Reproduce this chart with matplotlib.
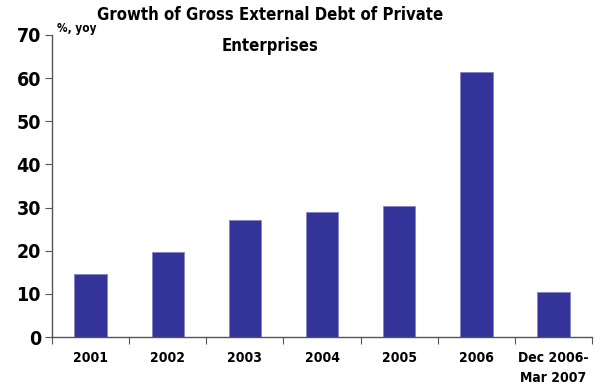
import numpy as np
import matplotlib.pyplot as plt
from matplotlib import font_manager

categories = ["2001", "2002", "2003", "2004", "2005", "2006", "Dec 2006-\nMar 2007"]
growth = [14.6, 19.7, 27.1, 29.0, 30.4, 61.5, 10.5]
y_ticks = [0, 10, 20, 30, 40, 50, 60, 70]


def pick_bold_narrow():
    # prefer a bold narrow/condensed face if one is installed
    files = [f.fname for f in font_manager.fontManager.ttflist]
    files += font_manager.findSystemFonts()
    for key in ["LiberationSansNarrow-Bold.", "DejaVuSansCondensed-Bold.", "Condensed-Bold", "Narrow-Bold"]:
        for fn in files:
            if key in fn.split("/")[-1]:
                return fn
    return None


narrow = pick_bold_narrow()


def fp(size):
    if narrow:
        return font_manager.FontProperties(fname=narrow, size=size)
    return font_manager.FontProperties(family='DejaVu Sans', weight='bold', size=size)


fig = plt.figure(figsize=(6, 3.92), dpi=100)
ax = fig.add_axes([0.0867, 0.140, 0.900, 0.771])

x = np.arange(len(categories))
ax.bar(x, growth, width=0.42, color='#333399', edgecolor='#8585c2', linewidth=0.6)

ax.set_xlim(-0.5, len(categories) - 0.5)
ax.set_ylim(0, 70)
ax.set_yticks(y_ticks)
ax.set_yticklabels([str(t) for t in y_ticks], fontproperties=fp(14))

# category labels sit between the boundary ticks
ax.set_xticks(np.arange(len(categories) + 1) - 0.5)
ax.set_xticklabels([])
ax.set_xticks(x, minor=True)
ax.set_xticklabels(categories, minor=True, fontproperties=fp(10), linespacing=1.5)
ax.tick_params(axis='x', which='minor', length=0, pad=10)
ax.tick_params(axis='x', which='major', direction='out', length=5, color='#555555')
ax.tick_params(axis='y', direction='out', length=5, color='#555555', pad=3)

for side in ['top', 'right']:
    ax.spines[side].set_visible(False)
for side in ['left', 'bottom']:
    ax.spines[side].set_color('#555555')
    ax.spines[side].set_linewidth(1.0)

ax.text(0.01, 1.0, "%, yoy", transform=ax.transAxes, fontproperties=fp(8.5),
        va='bottom', ha='left')
fig.text(0.45, 0.985, "Growth of Gross External Debt of Private\nEnterprises",
         ha='center', va='top', fontproperties=fp(12), linespacing=1.95)

fig.savefig("out.png", dpi=100, facecolor='white')
